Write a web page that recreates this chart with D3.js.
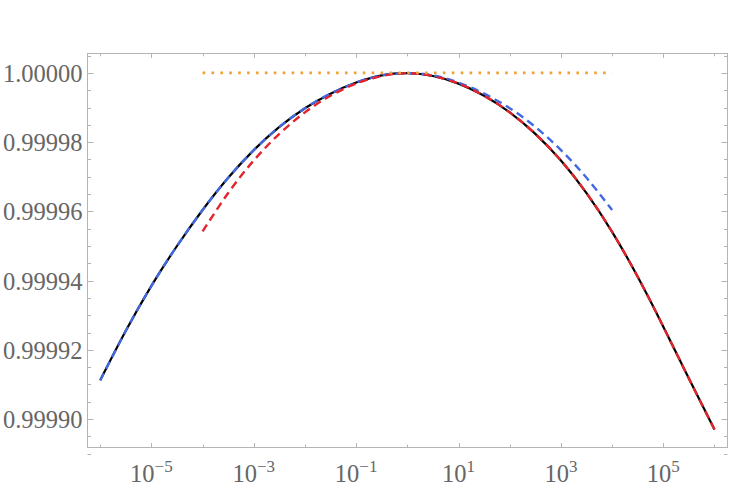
<!doctype html>
<html lang="en">
<head>
<meta charset="utf-8">
<title>Curves near 1</title>
<script src="https://d3js.org/d3.v7.min.js"></script>
<style>
  body { margin: 0; background: #fff; }
  svg text { font-family: "Liberation Serif", "DejaVu Serif", serif; fill: #666; }
</style>
</head>
<body>
<svg width="732" height="504"></svg>
<script>
// decade exponents (x = 10^e) and values
var blackExp = [-6, -5.5, -5, -4.5, -4, -3.5, -3, -2.5, -2, -1.5, -1, -0.5, 0, 0.5, 1, 1.5, 2, 2.5, 3, 3.5, 4, 4.5, 5, 5.5, 6];
var blackVal = [0.9999112, 0.9999255, 0.9999385, 0.9999500, 0.9999604, 0.9999697, 0.9999777, 0.9999844, 0.9999898, 0.9999940,
                0.9999972, 0.9999993, 0.9999999, 0.9999991, 0.9999969, 0.9999934, 0.9999886, 0.9999824, 0.9999747, 0.9999653,
                0.9999541, 0.9999411, 0.9999267, 0.9999117, 0.9998970];

var blueExp = [-6, -5.5, -5, -4.5, -4, -3.5, -3, -2.5, -2, -1.5, -1, -0.5, 0, 0.5, 1, 1.5, 2, 2.5, 3, 3.5, 4];
var blueVal = [0.9999112, 0.9999255, 0.9999385, 0.9999500, 0.9999604, 0.9999697, 0.9999777, 0.9999844, 0.9999898, 0.9999940,
               0.9999972, 0.9999993, 0.9999999, 0.9999993, 0.9999972, 0.9999940, 0.9999898, 0.9999844, 0.9999777, 0.9999697,
               0.9999604];

var redExp = [-4, -3.5, -3, -2.5, -2, -1.5, -1, -0.5, 0, 0.5, 1, 1.5, 2, 2.5, 3, 3.5, 4, 4.5, 5, 5.5, 6];
var redVal = [0.9999542, 0.9999653, 0.9999747, 0.9999824, 0.9999886, 0.9999934, 0.9999969, 0.9999991, 0.9999999, 0.9999991,
              0.9999969, 0.9999934, 0.9999886, 0.9999824, 0.9999747, 0.9999653, 0.9999541, 0.9999411, 0.9999267, 0.9999117,
              0.9998970];

var orangeExp = [-4, 4];
var orangeVal = [1.0, 1.0];

var yTicks = [0.99990, 0.99992, 0.99994, 0.99996, 0.99998, 1.00000];
var xLabelExp = [-5, -3, -1, 1, 3, 5];
var xTickExp = [-6, -5, -4, -3, -2, -1, 0, 1, 2, 3, 4, 5, 6];

var plotL = 87.5, plotR = 727.5, plotT = 53.5, plotB = 447.5;

var x = d3.scaleLog().domain([Math.pow(10, -6.248), Math.pow(10, 6.254)]).range([plotL, plotR]);
var y = d3.scaleLinear().domain([0.9998918, 1.0000056]).range([plotB, plotT]);

var svg = d3.select("svg");
var frameColor = "#b4b4b4";

// frame
svg.append("rect")
  .attr("x", plotL).attr("y", plotT)
  .attr("width", plotR - plotL).attr("height", plotB - plotT)
  .attr("fill", "none").attr("stroke", frameColor).attr("stroke-width", 1);

// y ticks, major + minor, on both sides pointing in
var yMinor = d3.range(0.999890, 1.0000051, 0.000005);
yMinor.forEach(function(v) {
  var major = yTicks.some(function(t) { return Math.abs(t - v) < 1e-9; });
  var len = major ? 6 : 3.5;
  var yy = Math.round(y(v)) + 0.5;
  svg.append("line").attr("x1", plotL).attr("x2", plotL + len).attr("y1", yy).attr("y2", yy)
    .attr("stroke", frameColor);
  svg.append("line").attr("x1", plotR).attr("x2", plotR - len).attr("y1", yy).attr("y2", yy)
    .attr("stroke", frameColor);
});

svg.selectAll(".ylab")
  .data(yTicks)
  .enter().append("text")
  .attr("class", "ylab")
  .attr("x", plotL - 5)
  .attr("y", function(d) { return y(d) + 9; })
  .attr("text-anchor", "end")
  .style("font-size", "24.5px")
  .text(function(d) { return d3.format(".5f")(d); });

// x ticks top and bottom
xTickExp.forEach(function(e) {
  var len = (Math.abs(e) % 2 === 1) ? 4.5 : 2.8;
  var xx = Math.round(x(Math.pow(10, e))) + 0.5;
  svg.append("line").attr("x1", xx).attr("x2", xx).attr("y1", plotB).attr("y2", plotB - len)
    .attr("stroke", frameColor);
  svg.append("line").attr("x1", xx).attr("x2", xx).attr("y1", plotT).attr("y2", plotT + len)
    .attr("stroke", frameColor);
});

var xl = svg.selectAll(".xlab")
  .data(xLabelExp)
  .enter().append("text")
  .attr("class", "xlab")
  .attr("x", function(d) { return x(Math.pow(10, d)); })
  .attr("y", 481.5)
  .attr("text-anchor", "middle")
  .style("font-size", "24.5px");
xl.append("tspan").text("10");
xl.append("tspan")
  .attr("dy", -10)
  .style("font-size", "17px")
  .text(function(d) { return (d < 0 ? "\u2212" : "") + Math.abs(d); });

// curves
var line = d3.line()
  .x(function(d) { return x(Math.pow(10, d[0])); })
  .y(function(d) { return y(d[1]); })
  .curve(d3.curveNatural);

function draw(exps, vals, color, width, dash) {
  svg.append("path")
    .datum(d3.zip(exps, vals))
    .attr("d", line)
    .attr("fill", "none")
    .attr("stroke", color)
    .attr("stroke-width", width)
    .attr("stroke-dasharray", dash);
}

draw(blackExp, blackVal, "#000", 2.2, null);
draw(blueExp, blueVal, "#4169e1", 2.4, "8,5");
draw(redExp, redVal, "#e3242b", 2.4, "8,5");
draw(orangeExp, orangeVal, "#f0a035", 2.6, "2.6,6.3");
</script>
</body>
</html>
